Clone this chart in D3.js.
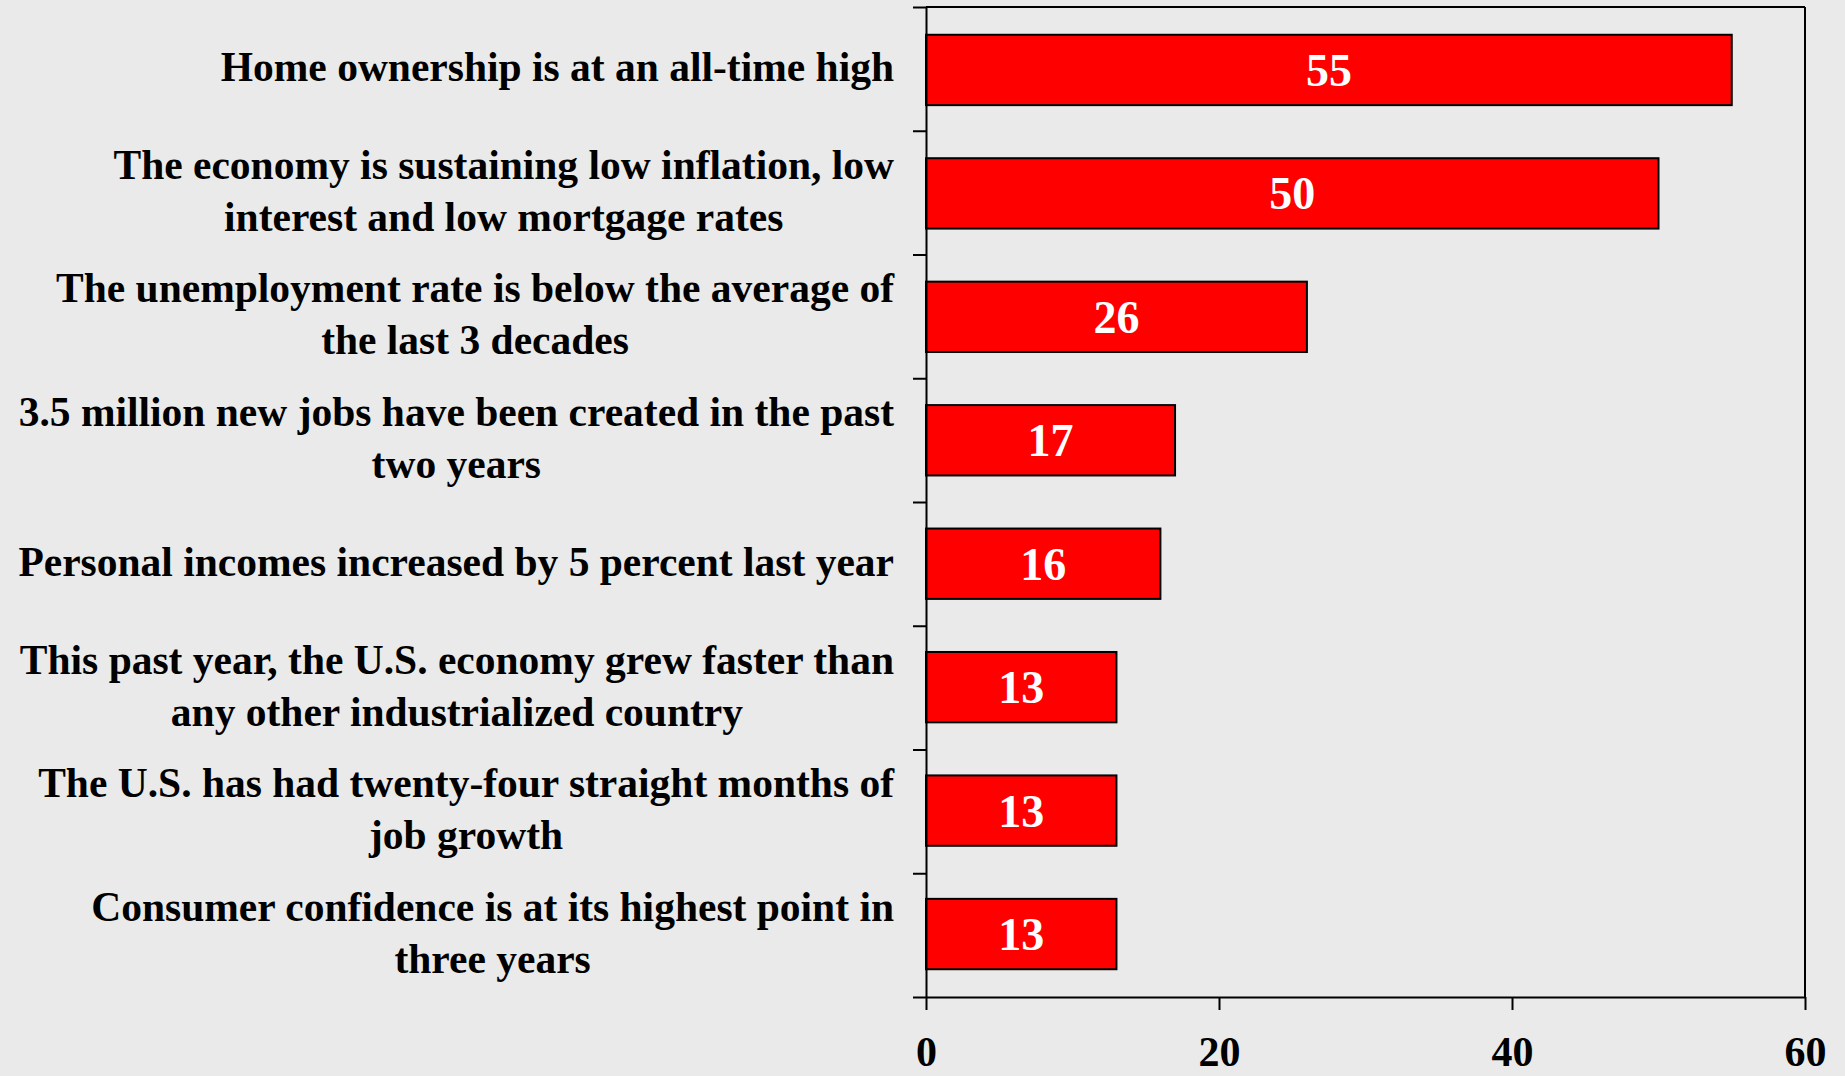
<!DOCTYPE html>
<html>
<head>
<meta charset="utf-8">
<script src="https://cdn.jsdelivr.net/npm/d3@7"></script>
<style>
  html, body { margin: 0; padding: 0; background: #eaeaea; }
  svg { display: block; }
  text { font-family: "Liberation Serif", "Times New Roman", serif; font-weight: bold; }
</style>
</head>
<body>
<svg id="chart" width="1845" height="1076"></svg>
<script>
// Survey statements (each inner array is one label, split into its lines)
const categories = [
  ["Home ownership is at an all-time high"],
  ["The economy is sustaining low inflation, low", "interest and low mortgage rates"],
  ["The unemployment rate is below the average of", "the last 3 decades"],
  ["3.5 million new jobs have been created in the past", "two years"],
  ["Personal incomes increased by 5 percent last year"],
  ["This past year, the U.S. economy grew faster than", "any other industrialized country"],
  ["The U.S. has had twenty-four straight months of", "job growth"],
  ["Consumer confidence is at its highest point in", "three years"]
];
const values = [55, 50, 26, 17, 16, 13, 13, 13];
const xTicks = [0, 20, 40, 60];

const W = 1845, H = 1076;
const plot = { left: 926, right: 1805, top: 7, bottom: 997 };
const FONT = "'Liberation Serif', 'Times New Roman', serif";

const svg = d3.select("#chart");
svg.append("rect").attr("width", W).attr("height", H).attr("fill", "#eaeaea");

const keys = categories.map((c, i) => i);

const x = d3.scaleLinear().domain([0, 60]).range([plot.left, plot.right]);
const y = d3.scaleBand().domain(keys).range([plot.top, plot.bottom])
  .paddingInner(0.43).paddingOuter(0.225);
// boundaries between categories, used for the left axis ticks
const yEdge = d3.scaleLinear().domain([0, categories.length]).range([plot.top, plot.bottom]);

// plot frame: top and right edges
svg.append("line")
  .attr("x1", plot.left).attr("x2", plot.right)
  .attr("y1", plot.top).attr("y2", plot.top)
  .attr("stroke", "#000").attr("stroke-width", 2);
svg.append("line")
  .attr("x1", plot.right).attr("x2", plot.right)
  .attr("y1", plot.top).attr("y2", plot.bottom)
  .attr("stroke", "#000").attr("stroke-width", 2);

// bars
svg.append("g").selectAll("rect").data(values).join("rect")
  .attr("x", x(0))
  .attr("y", (d, i) => y(i))
  .attr("width", d => x(d) - x(0))
  .attr("height", y.bandwidth())
  .attr("fill", "#ff0000")
  .attr("stroke", "#000")
  .attr("stroke-width", 2);

// value labels inside bars
svg.append("g").selectAll("text").data(values).join("text")
  .attr("x", d => (x(0) + x(d)) / 2)
  .attr("y", (d, i) => y(i) + y.bandwidth() / 2 + 16)
  .attr("text-anchor", "middle")
  .attr("fill", "#fff")
  .attr("font-family", FONT)
  .attr("font-weight", "bold")
  .attr("font-size", 46)
  .text(d => d);

// left axis: ticks at category boundaries
const leftAxis = svg.append("g")
  .attr("transform", `translate(${plot.left},0)`)
  .call(d3.axisLeft(yEdge).tickValues(d3.range(0, categories.length + 1))
    .tickFormat("").tickSizeInner(13).tickSizeOuter(0));
leftAxis.select(".domain").attr("stroke", "#000").attr("stroke-width", 2);
leftAxis.selectAll(".tick line").attr("stroke", "#000").attr("stroke-width", 2);

// bottom axis
const bottomAxis = svg.append("g")
  .attr("transform", `translate(0,${plot.bottom})`)
  .attr("font-family", FONT)
  .call(d3.axisBottom(x).tickValues(xTicks).tickSizeInner(13).tickSizeOuter(0).tickPadding(0));
bottomAxis.attr("font-family", FONT).attr("font-size", 42);
bottomAxis.select(".domain").attr("stroke", "#000").attr("stroke-width", 2);
bottomAxis.selectAll(".tick line").attr("stroke", "#000").attr("stroke-width", 2);
bottomAxis.selectAll(".tick text")
  .attr("fill", "#000")
  .attr("font-weight", "bold")
  .attr("dy", null)
  .attr("y", 69);

// category labels: each block right-aligned to the axis, lines centered within the block
const labelRight = 894;
const lineH = 52;
const labels = svg.append("g");
categories.forEach((lines, i) => {
  const g = labels.append("g");
  const cy = yEdge(i + 0.5);
  const texts = lines.map((ln, k) => g.append("text")
    .attr("font-family", FONT)
    .attr("font-weight", "bold")
    .attr("font-size", 41.5)
    .attr("fill", "#000")
    .attr("y", cy + 12 + (k - (lines.length - 1) / 2) * lineH)
    .text(ln));
  const maxW = d3.max(texts, t => t.node().getComputedTextLength());
  texts.forEach(t => t.attr("text-anchor", "middle").attr("x", labelRight - maxW / 2));
});
</script>
</body>
</html>
